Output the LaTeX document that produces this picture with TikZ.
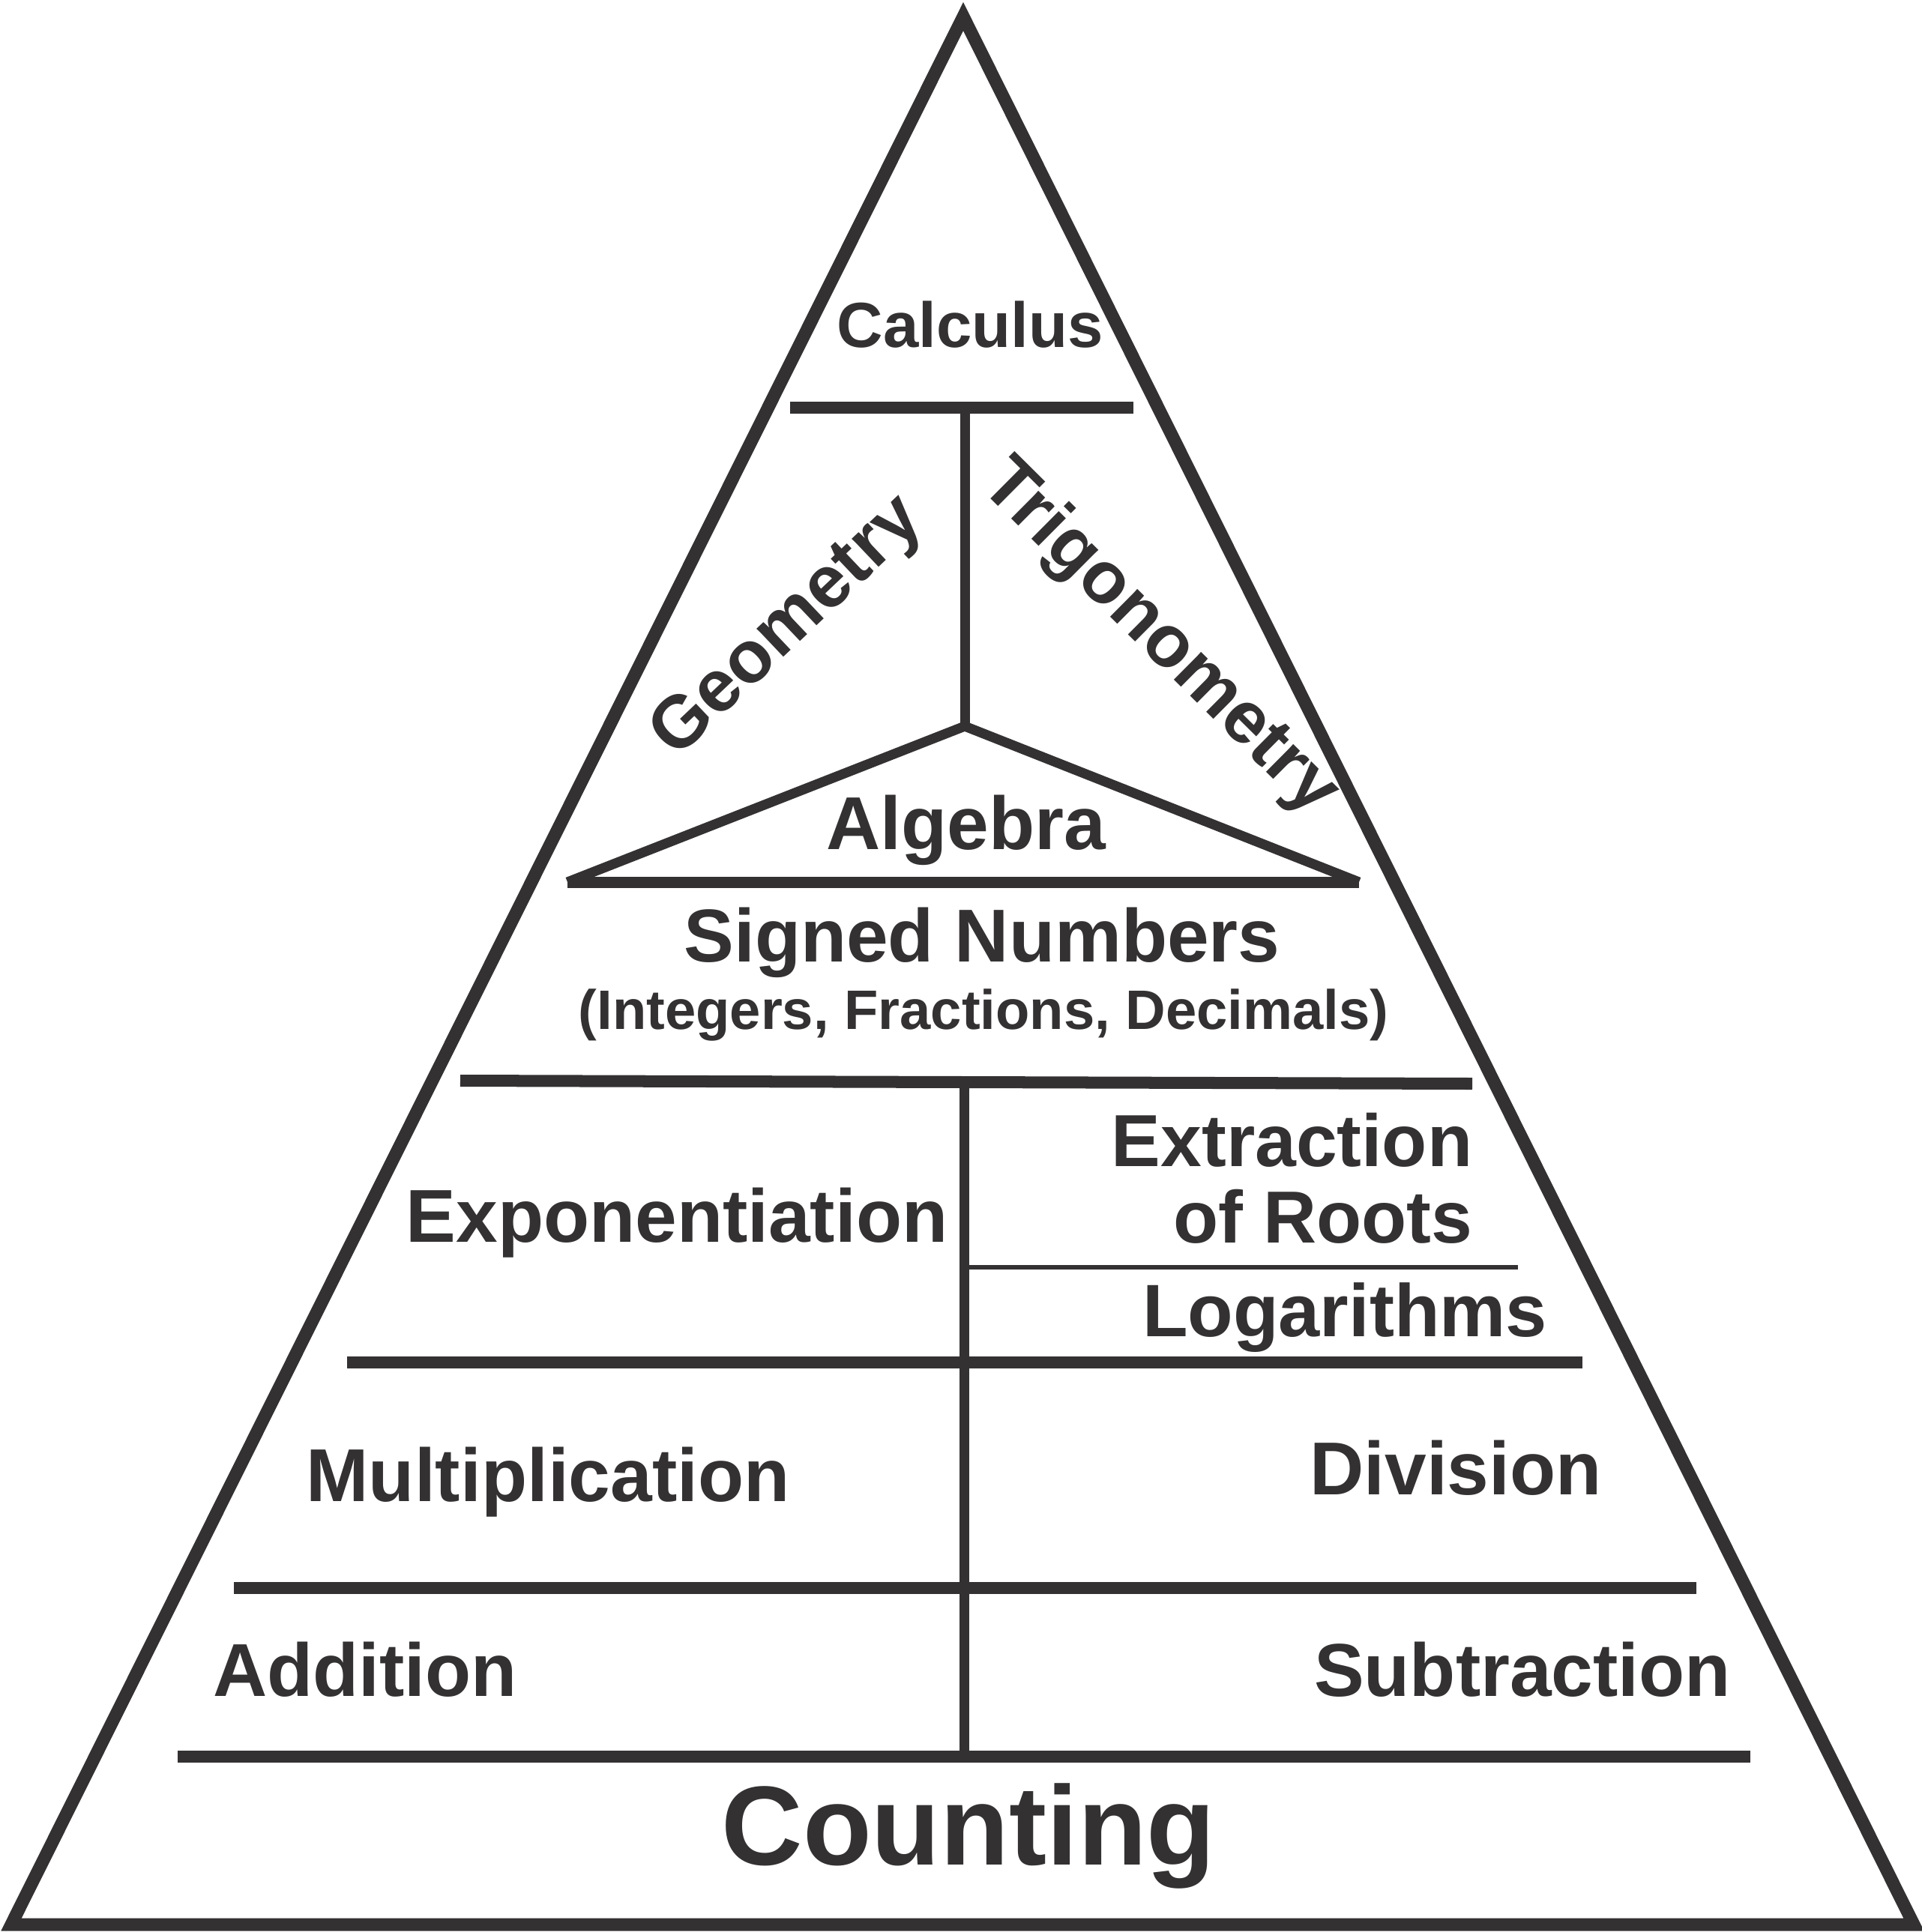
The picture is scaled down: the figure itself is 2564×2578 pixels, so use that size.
\documentclass[tikz,border=0pt]{standalone}
\usepackage{fontspec}
\setmainfont{Liberation Sans}
\definecolor{ink}{RGB}{51,49,50}
\newcommand\fsize[1]{\fontsize{#1}{#1}\selectfont\bfseries}

\begin{document}
\begin{tikzpicture}[x=0.01cm,y=-0.01cm]

          \useasboundingbox (0,0) rectangle (2564,2578);

          \tikzset{
            outline/.style={draw=ink,line width=0.17cm,line join=miter},
            rule/.style={draw=ink,line width=0.16cm},
            stem/.style={draw=ink,line width=0.13cm},
            hairrule/.style={draw=ink,line width=0.06cm}
          }

          % end points of the rules
          \coordinate (top)  at (1285,22);
          \coordinate (bl)   at (15,2568);
          \coordinate (br)   at (2553,2568);
          \coordinate (c1)   at (1054,544);
          \coordinate (c2)   at (1512,544);
          \coordinate (v1)   at (1287,552);
          \coordinate (alg)  at (1287,969);
          \coordinate (a1)   at (757,1177);
          \coordinate (a2)   at (1813,1177);
          \coordinate (s1)   at (614,1442);
          \coordinate (s2)   at (1964,1446);
          \coordinate (v2)   at (1286,1450);
          \coordinate (v3)   at (1286,2336);
          \coordinate (l1)   at (1286,1691);
          \coordinate (l2)   at (2025,1691);
          \coordinate (e1)   at (463,1818);
          \coordinate (e2)   at (2111,1818);
          \coordinate (m1)   at (312,2119);
          \coordinate (m2)   at (2263,2119);
          \coordinate (d1)   at (237,2344);
          \coordinate (d2)   at (2335,2344);

          \path[outline] (top) -- (bl) -- (br) -- cycle;
          \path[rule] (c1) -- (c2);
          \path[stem] (v1) -- (alg);
          \path[stem] (a1) -- (alg) -- (a2);
          \path[rule,line width=0.15cm] (a1) -- (a2);
          \path[rule] (s1) -- (s2);
          \path[stem] (v2) -- (v3);
          \path[hairrule] (l1) -- (l2);
          \path[rule] (e1) -- (e2);
          \path[rule] (m1) -- (m2);
          \path[rule] (d1) -- (d2);

          \begin{scope}[every node/.style={inner sep=0pt,text=ink,anchor=base}]
            \node (calc)  at (1294,463)  {\fsize{24.2pt}Calculus};
            \node (geo)   [anchor=center,rotate=43.5]  at (1052,838) {\fsize{27.9pt}Geometry};
            \node (trig)  [anchor=center,rotate=-44.8] at (1546,852) {\fsize{27.9pt}Trigonometry};
            \node (algb)  at (1289,1133) {\fsize{28.45pt}Algebra};
            \node (sign)  at (1310,1283) {\fsize{28.45pt}Signed Numbers};
            \node (kinds) at (1312,1373) {\fsize{21.1pt}(Integers, Fractions, Decimals)};
            \node (expo)  at (903,1657)  {\fsize{28.45pt}Exponentiation};
            \node (extr)  [anchor=base east] at (1965,1556) {\fsize{28pt}Extraction};
            \node (roots) [anchor=base east] at (1965,1658) {\fsize{28pt}of Roots};
            \node (logs)  at (1794,1783) {\fsize{28.2pt}Logarithms};
            \node (mult)  at (731,2003)  {\fsize{28.45pt}Multiplication};
            \node (divi)  at (1942,1994) {\fsize{28.45pt}Division};
            \node (addi)  at (487,2263)  {\fsize{28.45pt}Addition};
            \node (subt)  at (2031,2263) {\fsize{28.45pt}Subtraction};
            \node (count) at (1292,2488) {\fsize{42.7pt}Counting};
          \end{scope}

        \end{tikzpicture}
\end{document}
